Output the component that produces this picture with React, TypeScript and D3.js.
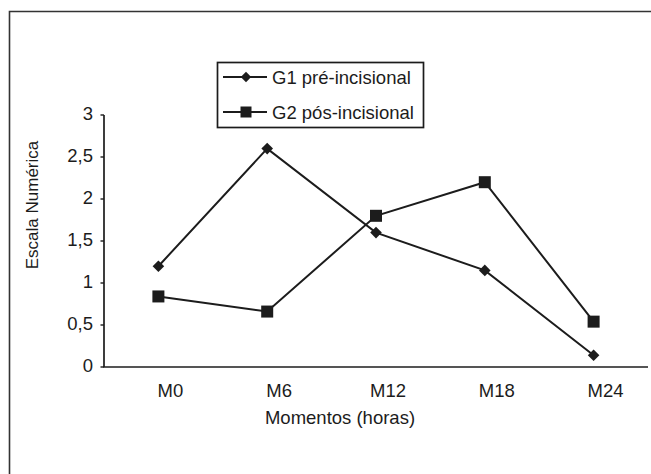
import React from "react";
import * as d3 from "d3";

const categories = ["M0", "M6", "M12", "M18", "M24"];
const g1Values = [1.2, 2.6, 1.6, 1.15, 0.14];
const g2Values = [0.84, 0.66, 1.8, 2.2, 0.54];
const yTicks = [0, 0.5, 1, 1.5, 2, 2.5, 3];
const seriesNames = ["G1 pré-incisional", "G2 pós-incisional"];

const W = 651;
const H = 474;
const FONT = "'Liberation Sans', Arial, sans-serif";
const INK = "#1c1c1c";

export default function App() {
  const x = d3.scalePoint<string>().domain(categories).range([104, 648]).padding(0.5);
  const y = d3.scaleLinear().domain([0, 3]).range([367, 115]);
  const line = d3
    .line<number>()
    .x((_, i) => x(categories[i]) as number)
    .y((d) => y(d));
  const fmt = (v: number) => String(v).replace(".", ",");
  const diamond = (cx: number, cy: number, r: number) =>
    `M${cx},${cy - r}L${cx + r},${cy}L${cx},${cy + r}L${cx - r},${cy}Z`;

  return (
    <svg width={W} height={H} style={{ position: "absolute", left: 0, top: 0, background: "#fff" }}>
      {/* frame */}
      <path d={`M9.5,${H}V11.5H${W}`} fill="none" stroke="#333" strokeWidth={1.6} />

      {/* y axis */}
      <line x1={104} x2={104} y1={y(3)} y2={y(0)} stroke={INK} strokeWidth={1.7} />
      {yTicks.map((t) => (
        <g key={t}>
          <line x1={100.5} x2={104} y1={y(t)} y2={y(t)} stroke={INK} strokeWidth={1.4} />
          <text
            x={93}
            y={y(t) - 2}
            textAnchor="end"
            dominantBaseline="central"
            fontFamily={FONT}
            fontSize={18.5}
            fill={INK}
          >
            {fmt(t)}
          </text>
        </g>
      ))}
      {/* x axis */}
      <line x1={103.2} x2={648} y1={y(0)} y2={y(0)} stroke={INK} strokeWidth={1.7} />
      {categories.map((c) => (
        <text
          key={c}
          x={(x(c) as number) + 12}
          y={397}
          textAnchor="middle"
          fontFamily={FONT}
          fontSize={18.5}
          fill={INK}
        >
          {c}
        </text>
      ))}
      <text x={340} y={424} textAnchor="middle" fontFamily={FONT} fontSize={18.5} fill={INK}>
        Momentos (horas)
      </text>
      <text
        transform={`translate(38,205) rotate(-90)`}
        textAnchor="middle"
        fontFamily={FONT}
        fontSize={17}
        fill={INK}
      >
        Escala Numérica
      </text>

      {/* series */}
      <path d={line(g1Values) as string} fill="none" stroke={INK} strokeWidth={2} />
      <path d={line(g2Values) as string} fill="none" stroke={INK} strokeWidth={2} />
      {g1Values.map((v, i) => (
        <path key={"d" + i} d={diamond(x(categories[i]) as number, y(v), 5.8)} fill={INK} />
      ))}
      {g2Values.map((v, i) => (
        <rect
          key={"s" + i}
          x={(x(categories[i]) as number) - 6}
          y={y(v) - 6}
          width={12}
          height={12}
          fill={INK}
        />
      ))}

      {/* legend */}
      <rect x={217.5} y={62.5} width={206} height={65} fill="#fff" stroke={INK} strokeWidth={1.7} />
      {seriesNames.map((n, i) => {
        const ly = 77 + i * 35;
        return (
          <g key={n}>
            <line x1={223} x2={267} y1={ly} y2={ly} stroke={INK} strokeWidth={2} />
            {i === 0 ? (
              <path d={diamond(246, ly, 5.2)} fill={INK} />
            ) : (
              <rect x={240.5} y={ly - 5.5} width={11} height={11} fill={INK} />
            )}
            <text x={272} y={ly} dominantBaseline="central" fontFamily={FONT} fontSize={18.5} fill={INK}>
              {n}
            </text>
          </g>
        );
      })}
    </svg>
  );
}
